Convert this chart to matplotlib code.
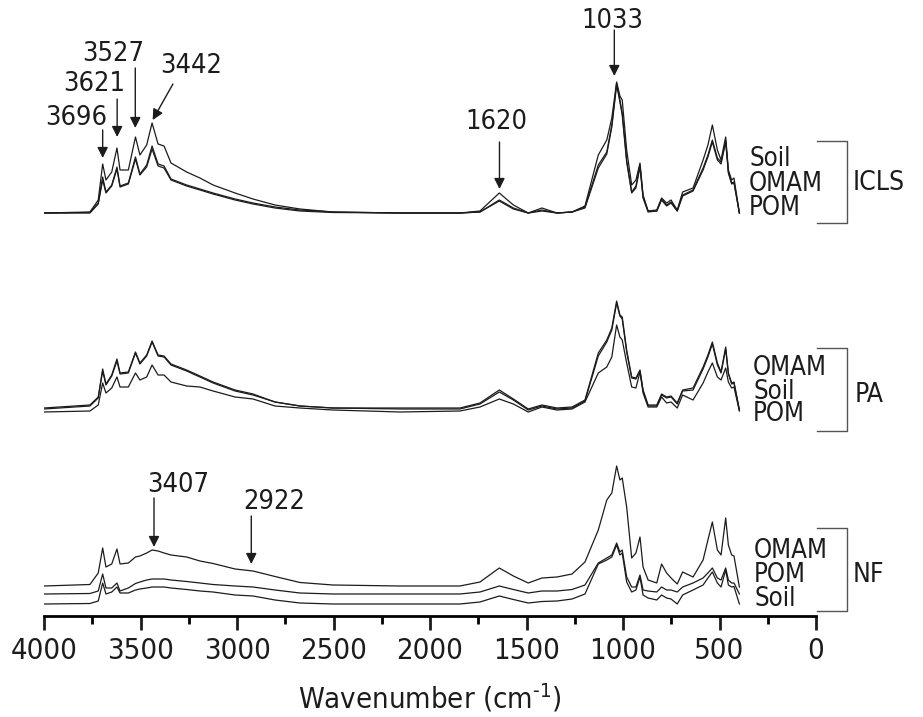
import matplotlib
matplotlib.use("Agg")
import matplotlib.pyplot as plt
from matplotlib.ticker import MultipleLocator

wavenumber = [4000, 3762, 3719, 3696, 3679, 3649, 3622, 3606, 3563, 3526, 3503, 3468, 3440,
              3409, 3378, 3342, 3261, 3192, 3124, 3010, 2917, 2803, 2674, 2503, 2155,
              1845, 1741, 1641, 1568, 1491, 1420, 1342, 1264, 1197, 1128, 1084, 1058, 1033,
              1016, 1004, 981, 955, 933, 912, 896, 870, 825, 800, 774, 751, 719, 691, 637,
              585, 560, 537, 511, 492, 468, 454, 437, 425, 397]

# absorbance (a.u., stacked with offsets)
icls_soil = [403, 404, 416, 452, 436, 444, 468, 446, 446, 479, 461, 471, 493,
             472, 470, 453, 444, 438, 431, 423, 417, 411, 407, 404, 403,
             403, 405, 423, 411, 403, 408, 403, 404, 410, 461, 476, 498, 534,
             520, 516, 466, 431, 436, 453, 421, 405, 406, 418, 413, 416, 406, 424, 428,
             456, 471, 491, 466, 456, 479, 446, 436, 438, 403]
icls_omam = [403, 403.5, 413, 439, 424, 431, 449, 430, 433, 459, 442, 451, 470,
             452, 450, 437, 431, 427, 423, 417, 413, 409, 406, 404, 403,
             403, 404, 416, 408, 403, 406, 403, 404, 409, 451, 464, 491, 533,
             516, 503, 456, 424, 430, 451, 419, 405, 405, 417, 411, 414, 405, 421, 426,
             448, 461, 476, 458, 454, 476, 444, 433, 434, 403]
icls_pom = [403, 403, 412, 436, 423, 430, 447, 429, 432, 457, 441, 449, 467,
            450, 448, 436, 430, 426, 422, 416, 412, 408, 405, 403.5, 403,
            403, 404, 415, 407, 403, 405, 403, 404, 408, 448, 462, 489, 531,
            514, 501, 454, 423, 428, 449, 418, 404, 405, 416, 410, 413, 405, 420, 425,
            446, 459, 474, 456, 452, 474, 443, 432, 433, 403]

pa_omam = [208, 211, 219, 247, 232, 241, 257, 243, 244, 264, 253, 261, 275,
           261, 260, 252, 246, 240, 234, 226, 222, 214, 210, 208, 208,
           208, 213, 226, 217, 207, 211, 208, 209, 216, 263, 276, 288, 315,
           301, 299, 266, 239, 238, 246, 226, 211, 211, 222, 219, 220, 213, 226, 228,
           249, 261, 274, 253, 244, 269, 243, 233, 234, 206]
pa_soil = [207, 210, 218, 245, 231, 240, 255, 242, 243, 263, 252, 260, 274,
           260, 259, 251, 245, 239, 233, 225, 221, 214, 210, 208, 207,
           207, 212, 224, 216, 206, 210, 207, 208, 215, 260, 274, 286, 313,
           300, 297, 264, 238, 237, 245, 225, 210, 210, 221, 218, 219, 212, 225, 226,
           247, 259, 272, 251, 243, 267, 242, 232, 233, 206]
pa_pom = [204, 205, 211, 233, 223, 228, 239, 229, 229, 243, 236, 239, 251,
          241, 241, 234, 230, 229, 225, 219, 217, 210, 208, 206, 204,
          205, 209, 217, 212, 204, 209, 206, 207, 214, 243, 249, 259, 291,
          279, 276, 253, 229, 228, 244, 223, 209, 209, 219, 213, 214, 208, 221, 216,
          233, 244, 253, 239, 236, 248, 234, 228, 229, 205]

nf_omam = [30, 31.5, 43, 68, 49, 52, 67, 52, 53, 59, 60, 63, 66,
           65, 63, 61, 59, 55, 52.5, 47, 45, 39.5, 33.5, 31, 30,
           30, 34, 48, 40, 33, 38, 39, 42, 54, 86, 116, 123, 150,
           136, 138, 109, 58, 63, 79, 49, 36, 33, 52, 43, 38, 32, 44, 39,
           56, 76, 94, 66, 61, 98, 71, 61, 60, 29]
nf_pom = [22, 22.5, 25, 42, 28, 28, 33, 25, 28, 32.5, 34, 36, 37,
          37, 37, 36, 34.5, 33, 31.5, 30, 29, 26, 23, 22, 22,
          22, 24, 30, 26.5, 23, 25, 25, 26.5, 31, 53, 58, 61, 73,
          64, 66, 39, 29, 29, 41, 26, 25, 24, 29, 26, 26, 24, 29, 33,
          38, 43, 48, 38, 36, 48, 36, 33, 33, 22]
nf_soil = [12, 12.5, 15, 33, 22, 24, 29, 23, 23, 26, 27, 28, 29,
           29, 29, 28, 26.5, 25, 24, 21, 20, 16, 13, 12, 12,
           12, 14, 20, 16.5, 13, 14.5, 15, 17, 22, 52, 56, 59, 71,
           61, 63, 34, 24, 26, 39, 21, 18, 16, 21, 18, 17, 12, 21, 26,
           31, 38, 44, 33, 29, 46, 31, 29, 29.5, 12]

# peak annotations: label, arrow tip, arrow tail, text centre
peak_labels = ["3696", "3621", "3527", "3442", "1620", "1033", "3407", "2922"]
peak_tip = [(3696, 458), (3621, 479), (3527, 488), (3437, 496), (1640, 427), (1045, 540), (3430, 69), (2926, 52)]
peak_tail = [(3696, 486), (3621, 517), (3527, 548), (3332, 532), (1640, 474), (1045, 586), (3430, 118), (2926, 100)]
peak_text = [(3834, 498), (3741, 532), (3642, 562), (3238, 550), (1654, 494), (1053, 595), (3306, 131), (2809, 114)]

groups = ["ICLS", "PA", "NF"]
group_samples = [["Soil", "OMAM", "POM"], ["OMAM", "Soil", "POM"], ["OMAM", "POM", "Soil"]]

plt.rcParams['font.family'] = 'DejaVu Sans'
fs = 19.5
col = '#1c1c1c'

fig = plt.figure(figsize=(9.23, 7.17), dpi=100)
ax = fig.add_axes([44 / 923, 101 / 717, 772 / 923, 616 / 717])

for s in [icls_soil, icls_omam, icls_pom, pa_omam, pa_soil, pa_pom, nf_omam, nf_pom, nf_soil]:
    ax.plot(wavenumber, s, color=col, lw=0.9)

for lab, tip, tail, txt in zip(peak_labels, peak_tip, peak_tail, peak_text):
    ax.annotate('', xy=tip, xytext=tail,
                arrowprops=dict(arrowstyle='-|>', color=col, lw=1.0, mutation_scale=16,
                                shrinkA=0, shrinkB=0))
    ax.text(txt[0], txt[1], lab, ha='center', va='center', fontsize=fs,
            fontstretch='condensed', color=col)

# sample labels and brackets
label_x = [347, 326, 321]
label_y = [[457, 432, 408], [248, 224, 202], [65, 41, 17]]
group_x = [-192, -202, -192]
group_y = [433, 221, 41]
bracket_y = [(475, 393), (268, 185), (88, 5)]
for g, samples, lx, ly, gx, gy, (b1, b2) in zip(groups, group_samples, label_x, label_y,
                                                 group_x, group_y, bracket_y):
    for s, y in zip(samples, ly):
        ax.text(lx, y, s, ha='left', va='center', fontsize=18.5, fontstretch='condensed',
                color=col, clip_on=False)
    ax.text(gx, gy, g, ha='left', va='center', fontsize=19, fontstretch='condensed',
            color=col, clip_on=False)
    ax.plot([-5, -161, -161, -5], [b1, b1, b2, b2], color='#555555', lw=1.0, clip_on=False)

ax.set_xlim(4000, 0)
ax.set_ylim(0, 616)
ax.set_yticks([])
for sp in ['left', 'top', 'right']:
    ax.spines[sp].set_visible(False)
ax.spines['bottom'].set_linewidth(2)
ax.xaxis.set_major_locator(MultipleLocator(500))
ax.xaxis.set_minor_locator(MultipleLocator(250))
ax.tick_params(axis='x', which='major', length=10, width=2, direction='out',
               labelsize=21, pad=5, colors=col)
ax.tick_params(axis='x', which='minor', length=6, width=2, direction='out')
for t in ax.get_xticklabels():
    t.set_fontstretch('condensed')
ax.set_xlabel('Wavenumber (cm$^{\\mathregular{\u20101}}$)', fontsize=21, labelpad=12,
              fontstretch='condensed', color=col)

fig.savefig('out.png', dpi=100)
